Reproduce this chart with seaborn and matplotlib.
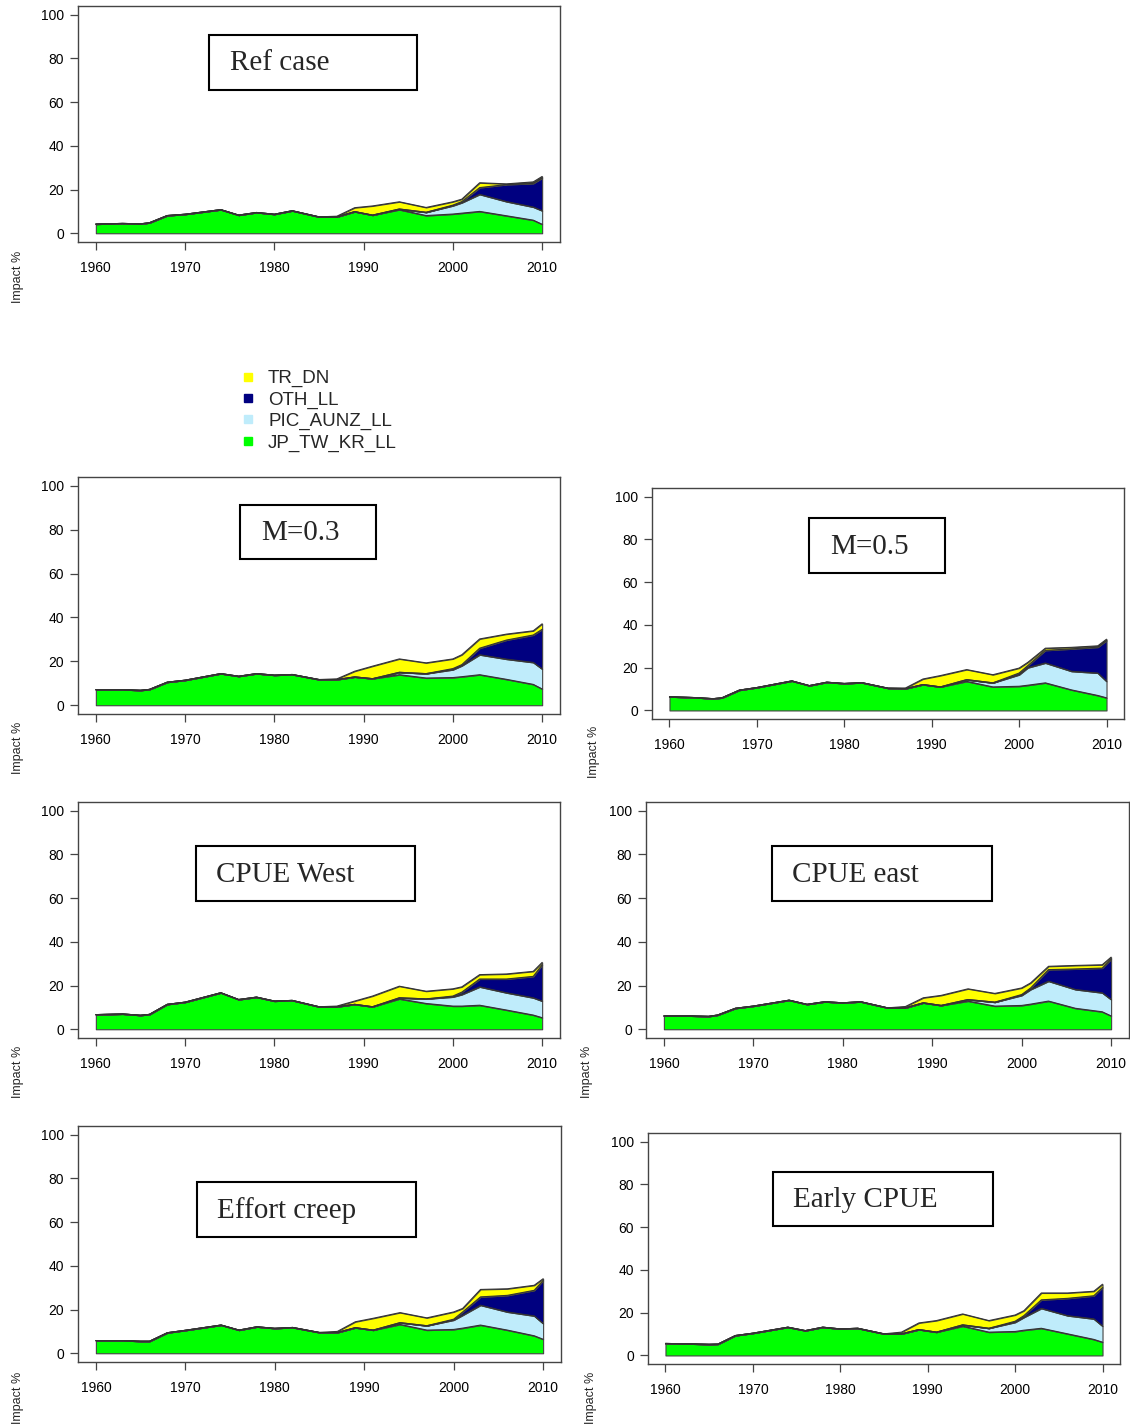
import numpy as np
import pandas as pd
import matplotlib
matplotlib.use('Agg')
import matplotlib.pyplot as plt
import seaborn as sns
from matplotlib.patches import Rectangle
from matplotlib.lines import Line2D

# year grid used for every scenario
years = [1960, 1963, 1965, 1966, 1968, 1970, 1974, 1976, 1978, 1980, 1982, 1985,
         1987, 1989, 1991, 1994, 1997, 2000, 2001, 2003, 2006, 2009, 2010]

fleets = ['JP_TW_KR_LL', 'PIC_AUNZ_LL', 'OTH_LL', 'TR_DN']
colors = ['#00ff00', '#bfecfb', '#000080', '#ffff00']

# impact % by fleet (layer thickness) for each scenario
ref_jp = [4.2, 4.5, 4.3, 4.8, 8.1, 8.7, 10.8, 8.3, 9.5, 8.7, 10.3, 7.5, 7.5, 9.9, 8.3, 10.8, 8.1, 8.8, 9.2, 10.0, 8.0, 6.0, 4.1]
ref_pic = [0, 0, 0, 0, 0, 0, 0, 0, 0, 0, 0, 0, 0, 0, 0, 0.3, 1.5, 3.8, 4.8, 7.8, 6.5, 6.0, 6.2]
ref_oth = [0, 0, 0, 0, 0, 0, 0, 0, 0, 0, 0, 0, 0, 0, 0, 0, 0, 0.3, 0.5, 3.1, 7.8, 10.8, 15.0]
ref_tr = [0, 0, 0, 0, 0, 0, 0, 0, 0, 0, 0, 0, 0.3, 1.8, 4.2, 3.3, 2.2, 1.5, 1.1, 2.2, 0.3, 0.7, 0.7]

m03_jp = [7.1, 7.1, 6.8, 7.2, 10.5, 11.4, 14.4, 13.2, 14.4, 13.7, 14.0, 11.7, 11.7, 12.9, 12.1, 13.9, 12.4, 12.6, 13.0, 13.9, 11.8, 9.5, 7.4]
m03_pic = [0, 0, 0, 0, 0, 0, 0, 0, 0, 0, 0, 0, 0, 0, 0, 1.1, 2.0, 3.6, 5.0, 9.1, 9.2, 10.0, 9.1]
m03_oth = [0, 0, 0, 0, 0, 0, 0, 0, 0, 0, 0, 0, 0, 0, 0, 0, 0, 0.5, 0.5, 3.0, 8.7, 12.5, 18.1]
m03_tr = [0, 0, 0, 0, 0, 0, 0, 0, 0, 0, 0, 0, 0.3, 2.6, 5.7, 6.1, 4.9, 4.4, 4.5, 4.2, 2.7, 1.9, 2.5]

m05_jp = [6.4, 6.0, 5.5, 5.9, 9.5, 10.7, 13.8, 11.6, 13.2, 12.6, 13.0, 10.4, 10.2, 12.1, 11.0, 13.6, 11.0, 11.3, 11.8, 12.9, 9.6, 7.0, 5.9]
m05_pic = [0, 0, 0, 0, 0, 0, 0, 0, 0, 0, 0, 0, 0, 0, 0, 0.8, 1.9, 5.4, 8.2, 9.3, 8.7, 10.5, 7.7]
m05_oth = [0, 0, 0, 0, 0, 0, 0, 0, 0, 0, 0, 0, 0, 0, 0, 0, 0, 0.8, 1.0, 5.9, 10.5, 12.1, 19.1]
m05_tr = [0, 0, 0, 0, 0, 0, 0, 0, 0, 0, 0, 0, 0.3, 2.6, 5.3, 4.7, 3.8, 2.3, 1.5, 1.0, 0.7, 0.6, 0.6]

west_jp = [6.7, 7.0, 6.4, 6.8, 11.4, 12.4, 16.7, 13.6, 14.7, 12.9, 13.2, 10.3, 10.3, 11.4, 10.3, 13.9, 11.8, 10.6, 10.6, 11.0, 8.8, 6.5, 5.3]
west_pic = [0, 0, 0, 0, 0, 0, 0, 0, 0, 0, 0, 0, 0, 0, 0, 0.5, 2.1, 4.2, 5.3, 8.4, 7.9, 7.9, 7.6]
west_oth = [0, 0, 0, 0, 0, 0, 0, 0, 0, 0, 0, 0, 0, 0, 0, 0, 0, 0.4, 1.1, 3.6, 6.3, 9.8, 16.6]
west_tr = [0, 0, 0, 0, 0, 0, 0, 0, 0, 0, 0, 0, 0.3, 1.5, 4.9, 5.3, 3.5, 3.3, 2.4, 2.0, 2.3, 2.3, 1.1]

east_jp = [6.1, 6.1, 5.9, 6.5, 9.6, 10.6, 13.3, 11.4, 12.6, 12.1, 12.6, 9.8, 9.8, 12.1, 10.9, 12.9, 10.6, 10.9, 11.5, 12.9, 9.6, 8.0, 6.1]
east_pic = [0, 0, 0, 0, 0, 0, 0, 0, 0, 0, 0, 0, 0, 0, 0, 0.7, 1.8, 4.6, 6.7, 9.1, 8.6, 8.7, 7.5]
east_oth = [0, 0, 0, 0, 0, 0, 0, 0, 0, 0, 0, 0, 0, 0, 0, 0, 0, 0.4, 0.7, 5.3, 9.4, 11.3, 18.5]
east_tr = [0, 0, 0, 0, 0, 0, 0, 0, 0, 0, 0, 0, 0.6, 2.3, 4.6, 4.9, 4.0, 3.0, 2.3, 1.5, 1.6, 1.5, 0.9]

creep_jp = [5.8, 5.8, 5.5, 5.5, 9.4, 10.5, 12.9, 10.6, 12.1, 11.4, 11.8, 9.5, 9.5, 11.7, 10.6, 13.2, 10.6, 10.9, 11.5, 12.9, 10.6, 8.0, 6.4]
creep_pic = [0, 0, 0, 0, 0, 0, 0, 0, 0, 0, 0, 0, 0, 0, 0, 0.8, 2.0, 4.3, 5.9, 9.1, 8.3, 9.1, 7.2]
creep_oth = [0, 0, 0, 0, 0, 0, 0, 0, 0, 0, 0, 0, 0, 0, 0, 0, 0, 0.4, 1.5, 3.8, 7.6, 11.7, 19.7]
creep_tr = [0, 0, 0, 0, 0, 0, 0, 0, 0, 0, 0, 0, 0.5, 2.7, 5.4, 4.6, 3.6, 3.3, 1.6, 3.4, 3.0, 2.3, 0.8]

early_jp = [5.6, 5.4, 5.2, 5.3, 9.3, 10.4, 13.2, 11.6, 13.2, 12.4, 12.7, 10.1, 10.1, 12.1, 10.9, 13.7, 10.9, 11.2, 11.8, 12.7, 10.1, 7.5, 6.2]
early_pic = [0, 0, 0, 0, 0, 0, 0, 0, 0, 0, 0, 0, 0, 0, 0, 0.6, 1.8, 4.3, 6.0, 9.3, 8.5, 9.6, 7.5]
early_oth = [0, 0, 0, 0, 0, 0, 0, 0, 0, 0, 0, 0, 0, 0, 0, 0, 0, 0.5, 0.8, 4.0, 8.1, 10.8, 18.1]
early_tr = [0, 0, 0, 0, 0, 0, 0, 0, 0, 0, 0, 0, 0.8, 3.1, 5.4, 5.1, 3.6, 2.9, 2.3, 3.2, 2.5, 2.1, 1.5]

W, H = 1130, 1427
sns.set_theme(style='ticks')
plt.rcParams['font.family'] = ['Liberation Sans', 'DejaVu Sans']

fig = plt.figure(figsize=(W / 100, H / 100), dpi=100)


def fbox(l, t, r, b):
    return [l / W, 1 - b / H, (r - l) / W, (b - t) / H]


def panel(axpx, title, tbox, tx, ylab, layers):
    ax = fig.add_axes(fbox(*axpx))
    df = pd.DataFrame(dict(zip(fleets, layers)), index=years)
    cum = df.cumsum(axis=1)
    base = np.zeros(len(years))
    for f, c in zip(fleets, colors):
        ax.fill_between(years, base, cum[f].values, facecolor=c,
                        edgecolor='#444444', linewidth=0.8)
        base = cum[f].values
    tops = cum.reset_index(names='year').melt(id_vars='year', var_name='fleet', value_name='impact')
    sns.lineplot(data=tops, x='year', y='impact', units='fleet', estimator=None,
                 color='#333333', lw=0.8, ax=ax, legend=False)
    ax.set_xlim(1958, 2012)
    ax.set_ylim(-4, 104)
    ax.set_xticks(range(1960, 2011, 10))
    ax.set_yticks(range(0, 101, 20))
    ax.set_xlabel('')
    ax.set_ylabel('')
    for s in ax.spines.values():
        s.set_visible(True)
        s.set_color('#444444')
        s.set_linewidth(1)
    ax.tick_params(axis='both', length=6, width=0.9, color='#444444', labelsize=10, labelcolor='black')
    ax.tick_params(axis='x', pad=8)
    ax.tick_params(axis='y', pad=4)
    l, t, r, b = tbox
    fig.add_artist(Rectangle((l / W, 1 - b / H), (r - l) / W, (b - t) / H,
                             transform=fig.transFigure, fill=False, ec='black', lw=1.5))
    fig.text(tx / W, 1 - (t + b + 2) / 2 / H, title, ha='left', va='center',
             family='Liberation Serif', size=21)
    fig.text(ylab[0] / W, 1 - ylab[1] / H, 'Impact %', rotation=90,
             ha='center', va='center', size=9)
    return ax


panel((78, 6, 560, 242), 'Ref case', (209, 35, 417, 90), 230, (18, 277),
      [ref_jp, ref_pic, ref_oth, ref_tr])
panel((78, 477, 560, 714), 'M=0.3', (240, 505, 376, 559), 261, (18, 748),
      [m03_jp, m03_pic, m03_oth, m03_tr])
panel((652, 488, 1124, 719), 'M=0.5', (809, 518, 945, 573), 830, (594, 752),
      [m05_jp, m05_pic, m05_oth, m05_tr])
panel((78, 802, 560, 1038), 'CPUE West', (196, 846, 415, 901), 216, (18, 1072),
      [west_jp, west_pic, west_oth, west_tr])
panel((646, 802, 1129, 1038), 'CPUE east', (772, 846, 992, 901), 792, (587, 1072),
      [east_jp, east_pic, east_oth, east_tr])
panel((78, 1126, 561, 1362), 'Effort creep', (197, 1182, 416, 1237), 217, (18, 1398),
      [creep_jp, creep_pic, creep_oth, creep_tr])
panel((648, 1133, 1120, 1364), 'Early CPUE', (773, 1172, 993, 1226), 793, (591, 1398),
      [early_jp, early_pic, early_oth, early_tr])

handles = [Line2D([], [], marker='s', ls='none', color=c, markersize=6) for c in colors[::-1]]
fig.legend(handles, fleets[::-1], loc='upper left', bbox_to_anchor=(240 / W, 1 - 370 / H),
           frameon=False, fontsize=13.5, handlelength=0.8, handletextpad=0.7,
           labelspacing=0.22, borderpad=0, borderaxespad=0)

fig.savefig('out.png', dpi=100)
